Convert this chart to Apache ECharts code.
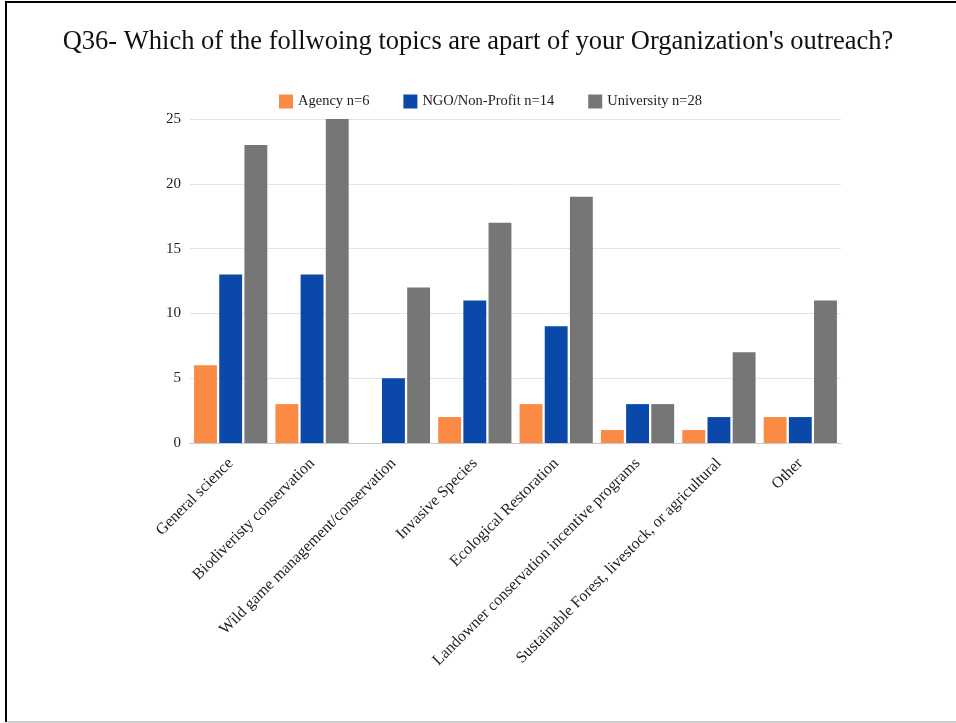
<!DOCTYPE html>
<html>
<head>
<meta charset="utf-8">
<script src="https://cdn.jsdelivr.net/npm/echarts@6/dist/echarts.min.js"></script>
<style>
  html, body { margin: 0; padding: 0; background: #fff; }
  #chart { width: 956px; height: 723px; }
</style>
</head>
<body>
<div id="chart"></div>
<script>
// Outreach topics by organization type
const categories = [
  'General science',
  'Biodiveristy conservation',
  'Wild game management/conservation',
  'Invasive Species',
  'Ecological Restoration',
  'Landowner conservation incentive programs',
  'Sustainable Forest, livestock, or agricultural',
  'Other'
];
const seriesNames = ['Agency n=6', 'NGO/Non-Profit n=14', 'University n=28'];
const agency = [6, 3, 0, 2, 3, 1, 1, 2];
const ngo = [13, 13, 5, 11, 9, 3, 2, 2];
const university = [23, 25, 12, 17, 19, 3, 7, 11];
const yTicks = { min: 0, max: 25, interval: 5 };

const colors = ['#fb8b44', '#0a48aa', '#767676'];
const serif = '"Liberation Serif", "DejaVu Serif", serif';

const chart = echarts.init(document.getElementById('chart'));
chart.setOption({
  animation: false,
  backgroundColor: '#ffffff',
  color: colors,
  title: {
    text: "Q36- Which of the follwoing topics are apart of your Organization's outreach?",
    left: 'center',
    top: 24,
    textStyle: { fontFamily: serif, fontSize: 26.5, fontWeight: 'normal', color: '#111' }
  },
  legend: {
    data: seriesNames,
    top: 89,
    left: 274,
    icon: 'rect',
    itemWidth: 14,
    itemHeight: 14,
    itemGap: 34,
    textStyle: { fontFamily: serif, fontSize: 14.5, color: '#222' }
  },
  grid: { left: 190, right: 115, top: 119, bottom: 280 },
  xAxis: {
    type: 'category',
    data: categories,
    axisLine: { lineStyle: { color: '#c8c8c8', width: 1 } },
    axisTick: { show: false },
    axisLabel: {
      interval: 0,
      rotate: 45,
      margin: 18,
      fontFamily: serif,
      fontSize: 16,
      color: '#222'
    }
  },
  yAxis: {
    type: 'value',
    min: yTicks.min,
    max: yTicks.max,
    interval: yTicks.interval,
    axisLine: { show: false },
    axisTick: { show: false },
    splitLine: { lineStyle: { color: '#e4e4e4', width: 1 } },
    axisLabel: { fontFamily: serif, fontSize: 15, color: '#222', margin: 9 }
  },
  series: [
    { name: seriesNames[0], type: 'bar', data: agency, barGap: '10%', barCategoryGap: '10%' },
    { name: seriesNames[1], type: 'bar', data: ngo, barGap: '10%', barCategoryGap: '10%' },
    { name: seriesNames[2], type: 'bar', data: university, barGap: '10%', barCategoryGap: '10%' }
  ],
  graphic: [
    { type: 'rect', shape: { x: 5, y: 1, width: 2, height: 721 }, style: { fill: '#000' } },
    { type: 'rect', shape: { x: 5, y: 1, width: 951, height: 2 }, style: { fill: '#000' } },
    { type: 'rect', shape: { x: 7, y: 721, width: 949, height: 2 }, style: { fill: '#d0d0d0' } }
  ]
});
</script>
</body>
</html>
